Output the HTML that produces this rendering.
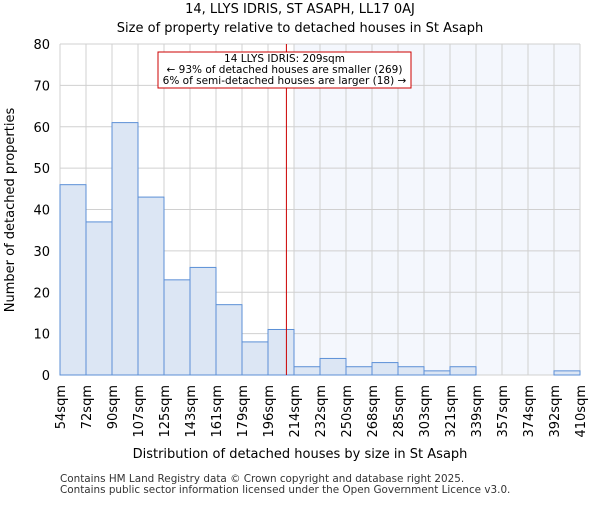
<!DOCTYPE html>
<html><head><meta charset="utf-8"><style>
body{margin:0;background:#fff;font-family:"Liberation Sans","DejaVu Sans",sans-serif}
</style></head><body>
<svg width="600" height="500" xmlns="http://www.w3.org/2000/svg" font-family="DejaVu Sans, Liberation Sans, sans-serif">
<text x="300" y="13" text-anchor="middle" font-size="13">14, LLYS IDRIS, ST ASAPH, LL17 0AJ</text>
<text x="300" y="32" text-anchor="middle" font-size="13">Size of property relative to detached houses in St Asaph</text>
<g id="plot"></g>
<text x="300" y="458" text-anchor="middle" font-size="13">Distribution of detached houses by size in St Asaph</text>
<text transform="translate(14,210) rotate(-90)" text-anchor="middle" font-size="13">Number of detached properties</text>
<text x="60" y="482" font-size="10.4" fill="#333">Contains HM Land Registry data © Crown copyright and database right 2025.</text>
<text x="60" y="493" font-size="10.4" fill="#333">Contains public sector information licensed under the Open Government Licence v3.0.</text>
</svg>
<script>
const binLabels=["54sqm","72sqm","90sqm","107sqm","125sqm","143sqm","161sqm","179sqm","196sqm","214sqm","232sqm","250sqm","268sqm","285sqm","303sqm","321sqm","339sqm","357sqm","374sqm","392sqm","410sqm"];
const counts=[46,37,61,43,23,26,17,8,11,2,4,2,3,2,1,2,0,0,0,1];
const yTicks=[0,10,20,30,40,50,60,70,80];
const propertySize=209;
const sizeMin=54, sizeMax=410;
const NS="http://www.w3.org/2000/svg";
const L=60,R=580,T=44,B=375;
const n=counts.length,bw=(R-L)/n;
const xb=i=>L+i*bw;
const xs=v=>L+(v-sizeMin)/(sizeMax-sizeMin)*(R-L);
const y=v=>B-v/80*(B-T);
const g=document.getElementById('plot');
function mk(t,a){const e=document.createElementNS(NS,t);for(const k in a)e.setAttribute(k,a[k]);g.appendChild(e);return e;}
const shadeStart=xb(Math.ceil((propertySize-sizeMin)/(sizeMax-sizeMin)*n));
let s=mk('rect',{x:shadeStart,y:T,width:R-shadeStart,height:B-T,fill:'#f4f7fd'});


for(let i=0;i<=n;i++){let l=mk('line',{x1:xb(i),x2:xb(i),y1:T,y2:B,stroke:'#d0d0d0','stroke-width':1});

}
yTicks.forEach(v=>{let l=mk('line',{x1:L,x2:R,y1:y(v),y2:y(v),stroke:'#d0d0d0','stroke-width':1});


let t=mk('text',{x:L-10,y:y(v)+5,'text-anchor':'end','font-size':13});t.textContent=v;

});
counts.forEach((c,i)=>{if(c<=0)return;let r=mk('rect',{x:xb(i),y:y(c),width:bw,height:B-y(c),fill:'#dce6f4',stroke:'#5b8fd6','stroke-width':1});

});
binLabels.forEach((lb,i)=>{let t=mk('text',{transform:`translate(${xb(i)+5},${B+10}) rotate(-90)`,'text-anchor':'end','font-size':13});t.textContent=lb;

});
let rl=mk('line',{x1:xs(propertySize),x2:xs(propertySize),y1:T,y2:B,stroke:'#cc0000','stroke-width':1});


let box=mk('rect',{x:158,y:52,width:253,height:36,fill:'#fff',stroke:'#cc0000','stroke-width':1});


["14 LLYS IDRIS: 209sqm","← 93% of detached houses are smaller (269)","6% of semi-detached houses are larger (18) →"].forEach((tx,i)=>{let t=mk('text',{x:284.5,y:62+i*11,'text-anchor':'middle','font-size':10.5});t.textContent=tx;

});
</script>
</body></html>
